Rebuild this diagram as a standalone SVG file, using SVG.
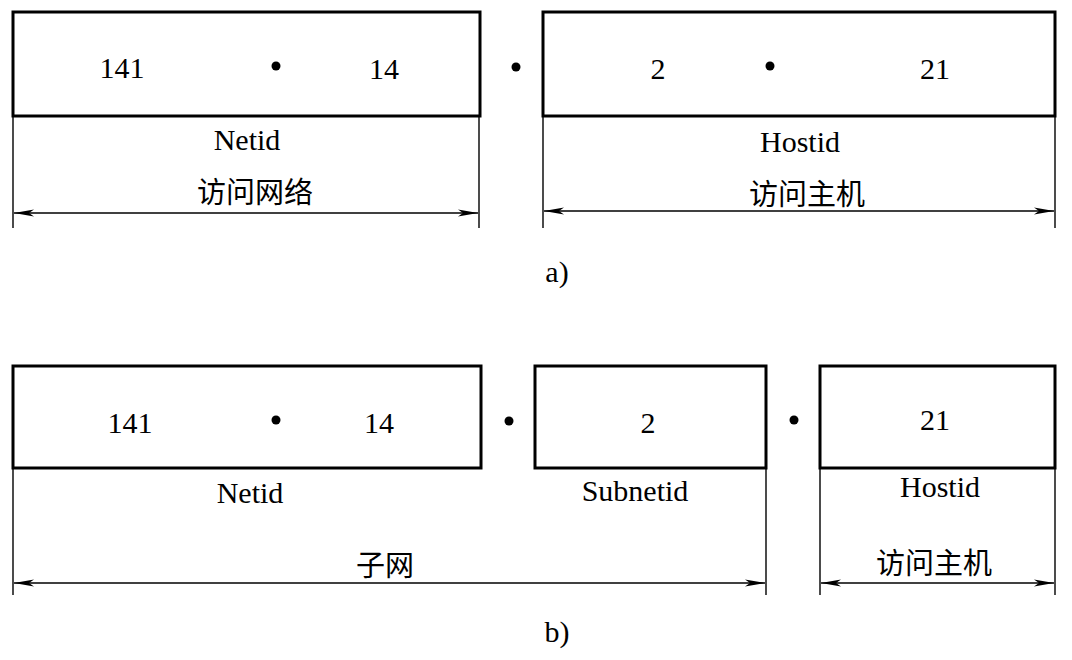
<svg xmlns="http://www.w3.org/2000/svg" width="1072" height="660" viewBox="0 0 1072 660">
<style>
.box{fill:none;stroke:#000;stroke-width:3}
.ext{stroke:#000;stroke-width:1.4;fill:none}
.dim{stroke:#000;stroke-width:1.5;fill:none;marker-start:url(#a);marker-end:url(#a)}
.t{font-family:"Liberation Serif","Times New Roman",serif;font-size:30px;fill:#000;text-anchor:middle}
.c{font-family:"Liberation Serif","Noto Sans CJK SC",serif;font-size:29px;fill:#000;text-anchor:middle}
.dot{fill:#000}
</style>
<defs>
<marker id="a" viewBox="0 0 20 8" refX="20" refY="4" markerWidth="20" markerHeight="8" markerUnits="userSpaceOnUse" orient="auto-start-reverse">
<path d="M0,0.5 L20,4 L0,7.5 L5,4 Z" fill="#000"/>
</marker>
</defs>
<g id="a-net">
<rect class="box" x="13" y="12" width="467" height="104"/>
<text class="t" x="122" y="78">141</text>
<circle class="dot" cx="276" cy="66" r="4.5"/>
<text class="t" x="384" y="79">14</text>
<text class="t" x="247" y="150">Netid</text>
<text class="c" x="255" y="203">访问网络</text>
</g>
<circle class="dot" cx="516" cy="67" r="4.5"/>
<g id="a-host">
<rect class="box" x="543" y="12" width="512" height="104"/>
<text class="t" x="658" y="79">2</text>
<circle class="dot" cx="770" cy="66" r="4.5"/>
<text class="t" x="935" y="79">21</text>
<text class="t" x="800" y="152">Hostid</text>
<text class="c" x="807" y="205">访问主机</text>
</g>
<text id="label-a" class="t" x="557" y="282">a)</text>
<g id="b-net">
<rect class="box" x="13" y="366" width="468" height="102"/>
<text class="t" x="130" y="433">141</text>
<circle class="dot" cx="276" cy="420" r="4.5"/>
<text class="t" x="379" y="433">14</text>
<text class="t" x="250" y="503">Netid</text>
</g>
<circle class="dot" cx="509" cy="421" r="4.5"/>
<g id="b-subnet">
<rect class="box" x="535" y="366" width="231" height="102"/>
<text class="t" x="648" y="433">2</text>
<text class="t" x="635" y="501">Subnetid</text>
</g>
<circle class="dot" cx="794" cy="420" r="4.5"/>
<g id="b-host">
<rect class="box" x="820" y="366" width="235" height="102"/>
<text class="t" x="935" y="430">21</text>
<text class="t" x="940" y="497">Hostid</text>
<text class="c" x="934" y="574">访问主机</text>
</g>
<text class="c" x="385" y="576">子网</text>
<text id="label-b" class="t" x="557" y="642">b)</text>
<g id="connectors">
<path class="ext" d="M13,116 V228 M479,116 V228 M543,116 V228 M1055,116 V228"/>
<path class="dim" d="M14,213 H478"/>
<path class="dim" d="M544,211 H1054"/>
<path class="ext" d="M13,468 V595 M766,468 V595 M820,468 V595 M1055,468 V595"/>
<path class="dim" d="M14,583 H765"/>
<path class="dim" d="M821,583 H1054"/>
</g>
</svg>
